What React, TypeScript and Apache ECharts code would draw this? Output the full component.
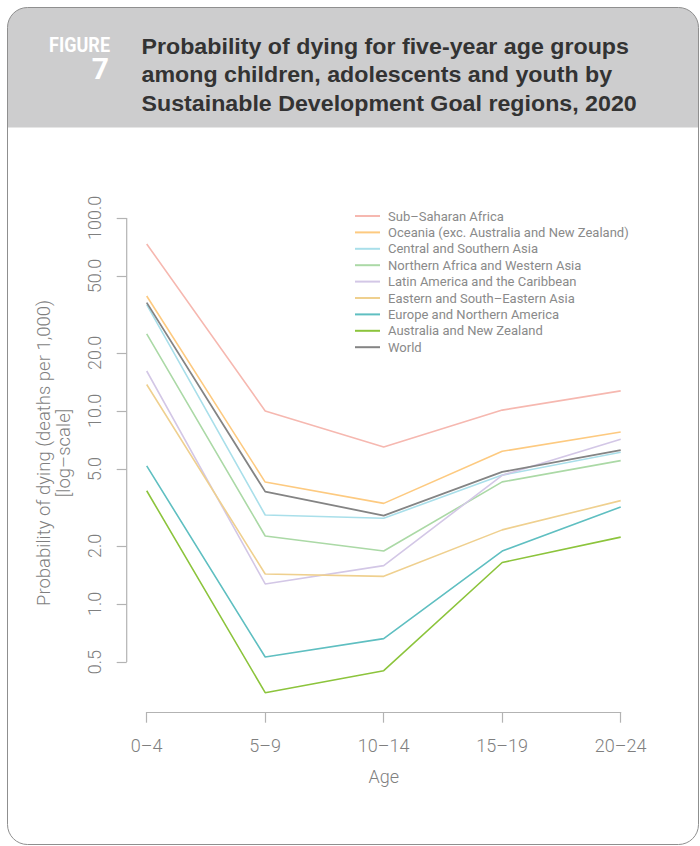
import React, { useEffect, useRef } from 'react';
import * as echarts from 'echarts';

const categories = ['0–4', '5–9', '10–14', '15–19', '20–24'];

const seriesNames = [
  'Sub–Saharan Africa',
  'Oceania (exc. Australia and New Zealand)',
  'Central and Southern Asia',
  'Northern Africa and Western Asia',
  'Latin America and the Caribbean',
  'Eastern and South–Eastern Asia',
  'Europe and Northern America',
  'Australia and New Zealand',
  'World',
];

const subSaharanAfrica = [73.3, 10.0, 6.5, 10.1, 12.7];
const oceania = [39.4, 4.28, 3.32, 6.18, 7.78];
const centralSouthernAsia = [35.5, 2.89, 2.78, 4.65, 6.11];
const northernAfricaWesternAsia = [25.1, 2.25, 1.88, 4.29, 5.53];
const latinAmericaCaribbean = [16.1, 1.27, 1.58, 4.64, 7.13];
const easternSouthEasternAsia = [13.7, 1.43, 1.39, 2.42, 3.43];
const europeNorthernAmerica = [5.19, 0.531, 0.661, 1.88, 3.18];
const australiaNewZealand = [3.86, 0.347, 0.451, 1.64, 2.22];
const world = [36.4, 3.82, 2.87, 4.83, 6.26];

const seriesValues = [
  subSaharanAfrica,
  oceania,
  centralSouthernAsia,
  northernAfricaWesternAsia,
  latinAmericaCaribbean,
  easternSouthEasternAsia,
  europeNorthernAmerica,
  australiaNewZealand,
  world,
];

const seriesColors = [
  '#f6b8b0',
  '#fdca80',
  '#a9dfea',
  '#abd9a6',
  '#d3c7e6',
  '#efd08f',
  '#5fbfc1',
  '#8cc43c',
  '#848484',
];

const yTickValues = [0.5, 1, 2, 5, 10, 20, 50, 100];
const yAxisMin = 0.2756;
const yAxisMax = 133;

const titleLines = [
  'Probability of dying for five-year age groups',
  'among children, adolescents and youth by',
  'Sustainable Development Goal regions, 2020',
];

export default function App() {
  const ref = useRef<HTMLDivElement>(null);

  useEffect(() => {
    const chart = echarts.init(ref.current!, null, { renderer: 'svg' });
    const font = 'Roboto, "Liberation Sans", Arial, sans-serif';
    const titleFont = '"Liberation Sans", Arial, Roboto, sans-serif';
    const textGrey = '#7f7f7f';
    const axisGrey = '#b3b3b3';

    const baseGraphics: any[] = [
      {
        type: 'rect',
        shape: { x: 7.5, y: 7.5, width: 691, height: 120, r: [20, 20, 0, 0] },
        style: { fill: '#cdcdce' },
        silent: true,
      },
      {
        type: 'rect',
        shape: { x: 7.5, y: 7.5, width: 691, height: 837, r: 20 },
        style: { fill: 'none', stroke: '#8f8f8f', lineWidth: 1 },
        silent: true,
      },
      {
        type: 'text',
        x: 110,
        y: 45,
        scaleX: 0.9,
        style: {
          text: 'FIGURE',
          fill: '#ffffff',
          fontFamily: font,
          fontWeight: 'bold',
          fontSize: 20,
          lineHeight: 16,
          align: 'right',
          verticalAlign: 'middle',
        },
      },
      {
        type: 'text',
        x: 109,
        y: 68,
        style: {
          text: '7',
          fill: '#ffffff',
          fontFamily: font,
          fontWeight: 'bold',
          fontSize: 30,
          lineHeight: 24,
          align: 'right',
          verticalAlign: 'middle',
        },
      },
      ...titleLines.map((t, i) => ({
        type: 'text',
        x: 141.5,
        y: 46.5 + i * 28.5,
        scaleX: 1.055,
        style: {
          text: t,
          fill: '#333333',
          fontFamily: titleFont,
          fontWeight: 'bold',
          fontSize: 22,
          lineHeight: 24,
          align: 'left',
          verticalAlign: 'middle',
        },
      })),
    ];

    const option: any = {
      animation: false,
      backgroundColor: '#ffffff',
      graphic: { elements: baseGraphics },
      grid: {
        left: 146.7,
        right: 79.3,
        top: 194,
        bottom: 134,
        containLabel: false,
        outerBoundsMode: 'none',
      },
      legend: {
        orient: 'vertical',
        left: 350,
        top: 202.8,
        itemWidth: 25,
        itemHeight: 2,
        itemGap: 0,
        icon: 'rect',
        data: seriesNames,
        textStyle: {
          fontFamily: font,
          fontSize: 13,
          color: '#8a8a8a',
          lineHeight: 16.4,
          padding: [0, 0, 0, 3],
        },
        selectedMode: false,
      },
      xAxis: {
        type: 'category',
        data: categories,
        boundaryGap: false,
        name: 'Age',
        nameLocation: 'middle',
        nameGap: 55,
        nameTextStyle: { fontFamily: font, fontSize: 18, color: textGrey, fontWeight: 300 },
        axisLine: { show: true, lineStyle: { color: axisGrey, width: 1.2 } },
        axisTick: { show: true, length: 10.7, lineStyle: { color: axisGrey, width: 1.2 } },
        axisLabel: { fontFamily: font, fontSize: 18, color: textGrey, margin: 24, fontWeight: 300 },
        splitLine: { show: false },
      },
      yAxis: {
        type: 'log',
        logBase: 10,
        min: yAxisMin,
        max: yAxisMax,
        offset: 20,
        name: 'Probability of dying (deaths per 1,000)\n[log–scale]',
        nameLocation: 'middle',
        nameRotate: 90,
        nameGap: 53,
        nameTextStyle: {
          fontFamily: font,
          fontSize: 18.5,
          lineHeight: 20,
          color: textGrey,
          fontWeight: 300,
          align: 'center',
        },
        axisLine: { show: false },
        axisTick: {
          show: true,
          length: 10,
          customValues: yTickValues,
          lineStyle: { color: axisGrey, width: 1.2 },
        },
        axisLabel: {
          show: true,
          customValues: yTickValues,
          rotate: 90,
          margin: 23,
          fontFamily: font,
          fontSize: 18,
          fontWeight: 300,
          color: textGrey,
          formatter: (v: number) => Number(v).toFixed(1),
        },
        splitLine: { show: false },
        minorTick: { show: false },
      },
      series: seriesNames.map((name, i) => ({
        name,
        type: 'line',
        data: seriesValues[i],
        symbol: 'none',
        smooth: false,
        lineStyle: { color: seriesColors[i], width: i === 8 ? 1.8 : 1.6 },
        itemStyle: { color: seriesColors[i] },
        z: 2 + i,
      })),
    };

    chart.setOption(option);

    const yTop = chart.convertToPixel({ yAxisIndex: 0 }, yTickValues[yTickValues.length - 1]) as number;
    const yBot = chart.convertToPixel({ yAxisIndex: 0 }, yTickValues[0]) as number;
    const gridRect = (chart as any).getModel().getComponent('grid', 0).coordinateSystem.getRect();
    const axisX = gridRect.x - 20;

    chart.setOption({
      graphic: {
        elements: [
          ...baseGraphics,
          {
            type: 'line',
            shape: { x1: axisX, y1: yTop, x2: axisX, y2: yBot },
            style: { stroke: axisGrey, lineWidth: 1.2 },
            silent: true,
          },
        ],
      },
    });

    return () => chart.dispose();
  }, []);

  return (
    <div
      ref={ref}
      style={{ position: 'absolute', left: 0, top: 0, width: 700, height: 846 }}
    />
  );
}
